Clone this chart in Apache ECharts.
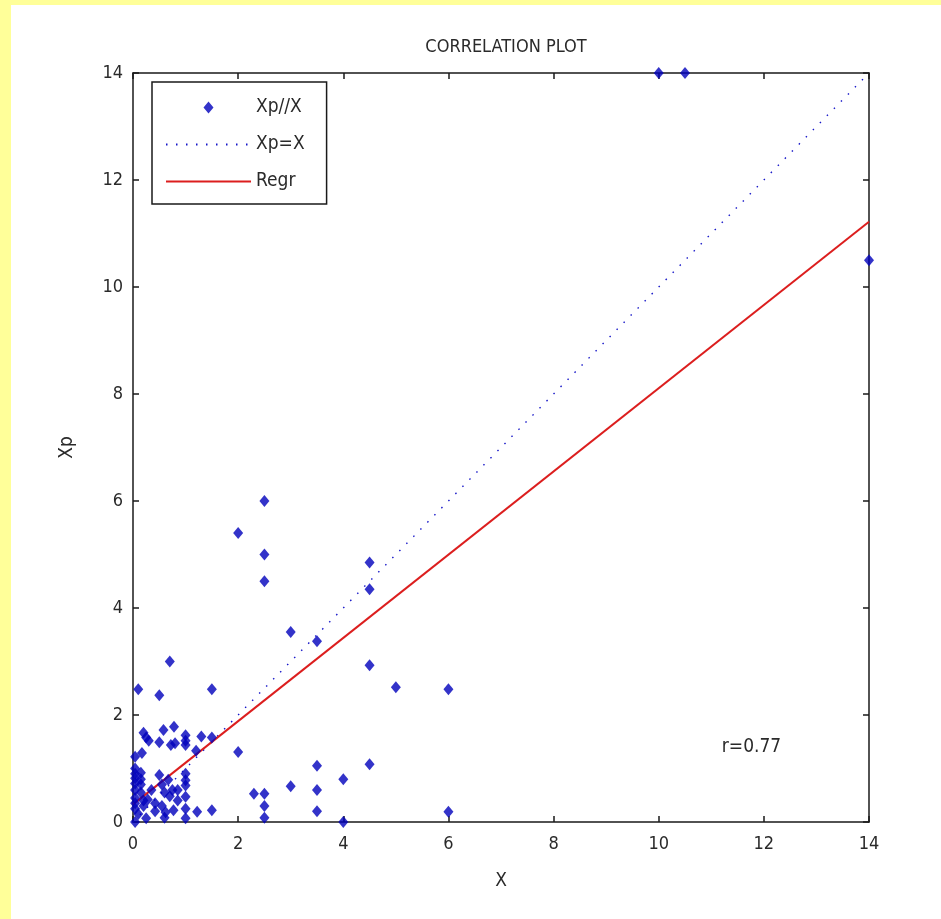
<!DOCTYPE html>
<html>
<head>
<meta charset="utf-8">
<script src="https://cdn.jsdelivr.net/npm/echarts@6/dist/echarts.min.js"></script>
<style>
html,body{margin:0;padding:0;background:#FFFF99;width:941px;height:919px;overflow:hidden;}
#c{position:absolute;left:11px;top:5px;width:930px;height:914px;background:#ffffff;}
</style>
</head>
<body>
<div id="c"></div>
<script>
// Scatter points Xp//X
const xs = [10,10.5,14,2.5,2,2.5,2.5,4.5,4.5,3,3.5,4.5,5,6,1.5,0.7,0.5,0.1,2,4.5,3.5,4,3,3.5,3.5,4,6,2.3,2.5,2.5,2.5,
  1.5,1.3,1.2,1.0,1.0,1.0,0.78,0.58,0.5,0.72,0.8,0.2,0.25,0.3,0.17,0.04,0.04,0.04,0.04,0.04,0.04,0.04,0.04,0.04,0.04,
  0.15,0.15,0.15,0.15,0.2,0.2,0.5,1.0,1.0,1.0,0.67,0.55,0.75,0.85,0.7,1.0,0.28,0.42,0.42,0.55,0.62,0.77,1.0,1.0,1.22,1.5,0.25,0.1,0.6,0.85,0.35,0.6];
const ys = [14,14,10.5,6.0,5.4,5.0,4.5,4.85,4.35,3.55,3.38,2.93,2.52,2.48,2.48,3.0,2.37,2.48,1.31,1.08,1.05,0.8,0.67,0.6,0.2,0,0.19,0.53,0.53,0.3,0.08,
  1.58,1.6,1.33,1.62,1.52,1.44,1.78,1.72,1.49,1.44,1.47,1.67,1.58,1.52,1.29,1.22,1.0,0.9,0.82,0.72,0.6,0.45,0.35,0.25,0,
  0.92,0.8,0.7,0.55,0.4,0.3,0.88,0.9,0.78,0.68,0.79,0.7,0.6,0.6,0.48,0.47,0.42,0.35,0.2,0.3,0.18,0.22,0.25,0.07,0.19,0.22,0.07,0.15,0.08,0.4,0.6,0.55];
// Identity line Xp=X
const identX = [0, 14];
const identY = [0, 14];
// Regression line
const regrX = [0, 14];
const regrY = [0.33, 11.22];
const rText = 'r=0.77';
const rPos = [11.2, 1.4];

const FONT = "'DejaVu Sans Condensed','Liberation Sans',Arial,sans-serif";
const scatterData = xs.map((x,i)=>[x, ys[i]]);
const identData = identX.map((x,i)=>[x, identY[i]]);
const regrData = regrX.map((x,i)=>[x, regrY[i]]);
const TXT = '#2a2a2a';

const axisCommon = {
  type:'value', min:0, max:14, interval:2,
  axisLine:{show:true, onZero:false, lineStyle:{color:'#1a1a1a', width:1.5}},
  axisTick:{show:true, inside:true, length:6, lineStyle:{color:'#1a1a1a', width:1.5}},
  splitLine:{show:false}
};
const diamondIcon = 'path://M0,0L0.01,0M85,12L84.99,12M42.5,0L47.5,6L42.5,12L37.5,6Z';
const chart = echarts.init(document.getElementById('c'), null, {renderer:'canvas'});
chart.setOption({
  animation:false,
  backgroundColor:'#ffffff',
  title:{text:'CORRELATION PLOT', left:490, top:28, textAlign:'center',
    textStyle:{fontFamily:FONT, fontSize:18, fontWeight:'normal', color:TXT}},
  grid:{left:122, right:72, top:68, bottom:97},
  xAxis:[
    Object.assign({}, axisCommon, {position:'bottom', name:'X', nameLocation:'middle', nameGap:50,
      nameTextStyle:{fontFamily:FONT, fontSize:19, color:TXT},
      axisLabel:{fontFamily:FONT, fontSize:18, color:TXT, margin:13}}),
    Object.assign({}, axisCommon, {position:'top', axisLabel:{show:false}})
  ],
  yAxis:[
    Object.assign({}, axisCommon, {position:'left', name:'Xp', nameLocation:'middle', nameGap:56, nameRotate:90,
      nameTextStyle:{fontFamily:FONT, fontSize:19, color:TXT},
      axisLabel:{fontFamily:FONT, fontSize:18, color:TXT, margin:10}}),
    Object.assign({}, axisCommon, {position:'right', axisLabel:{show:false}})
  ],
  legend:{
    orient:'vertical', left:141, top:77,
    backgroundColor:'#fff', borderColor:'#1a1a1a', borderWidth:1.5, borderRadius:0,
    padding:[16,22,13,13], itemWidth:85, itemHeight:12, itemGap:18, symbolKeepAspect:true,
    textStyle:{fontFamily:FONT, fontSize:19, color:TXT, lineHeight:12},
    data:[
      {name:'Xp//X', icon:diamondIcon},
      {name:'Xp=X', itemStyle:{opacity:0}},
      {name:'Regr', itemStyle:{opacity:0}}
    ]
  },
  series:[
    {name:'Xp=X', type:'line', data:identData, symbol:'none', xAxisIndex:0, yAxisIndex:0,
      lineStyle:{color:'#1515c8', width:1.4, type:[1.5,8.5]}, z:2},
    {name:'Regr', type:'line', data:regrData, symbol:'none', xAxisIndex:0, yAxisIndex:0,
      lineStyle:{color:'#dc1e1e', width:2}, z:3,
      markPoint:{symbol:'circle', symbolSize:0, silent:true,
        data:[{coord:rPos, value:rText}],
        label:{show:true, position:'right', distance:0, formatter:rText,
          fontFamily:FONT, fontSize:19, color:TXT}}},
    {name:'Xp//X', type:'scatter', data:scatterData, symbol:'diamond', symbolSize:[10,12],
      xAxisIndex:0, yAxisIndex:0, itemStyle:{color:'#0000bb'}, z:4}
  ]
});
</script>
</body>
</html>
